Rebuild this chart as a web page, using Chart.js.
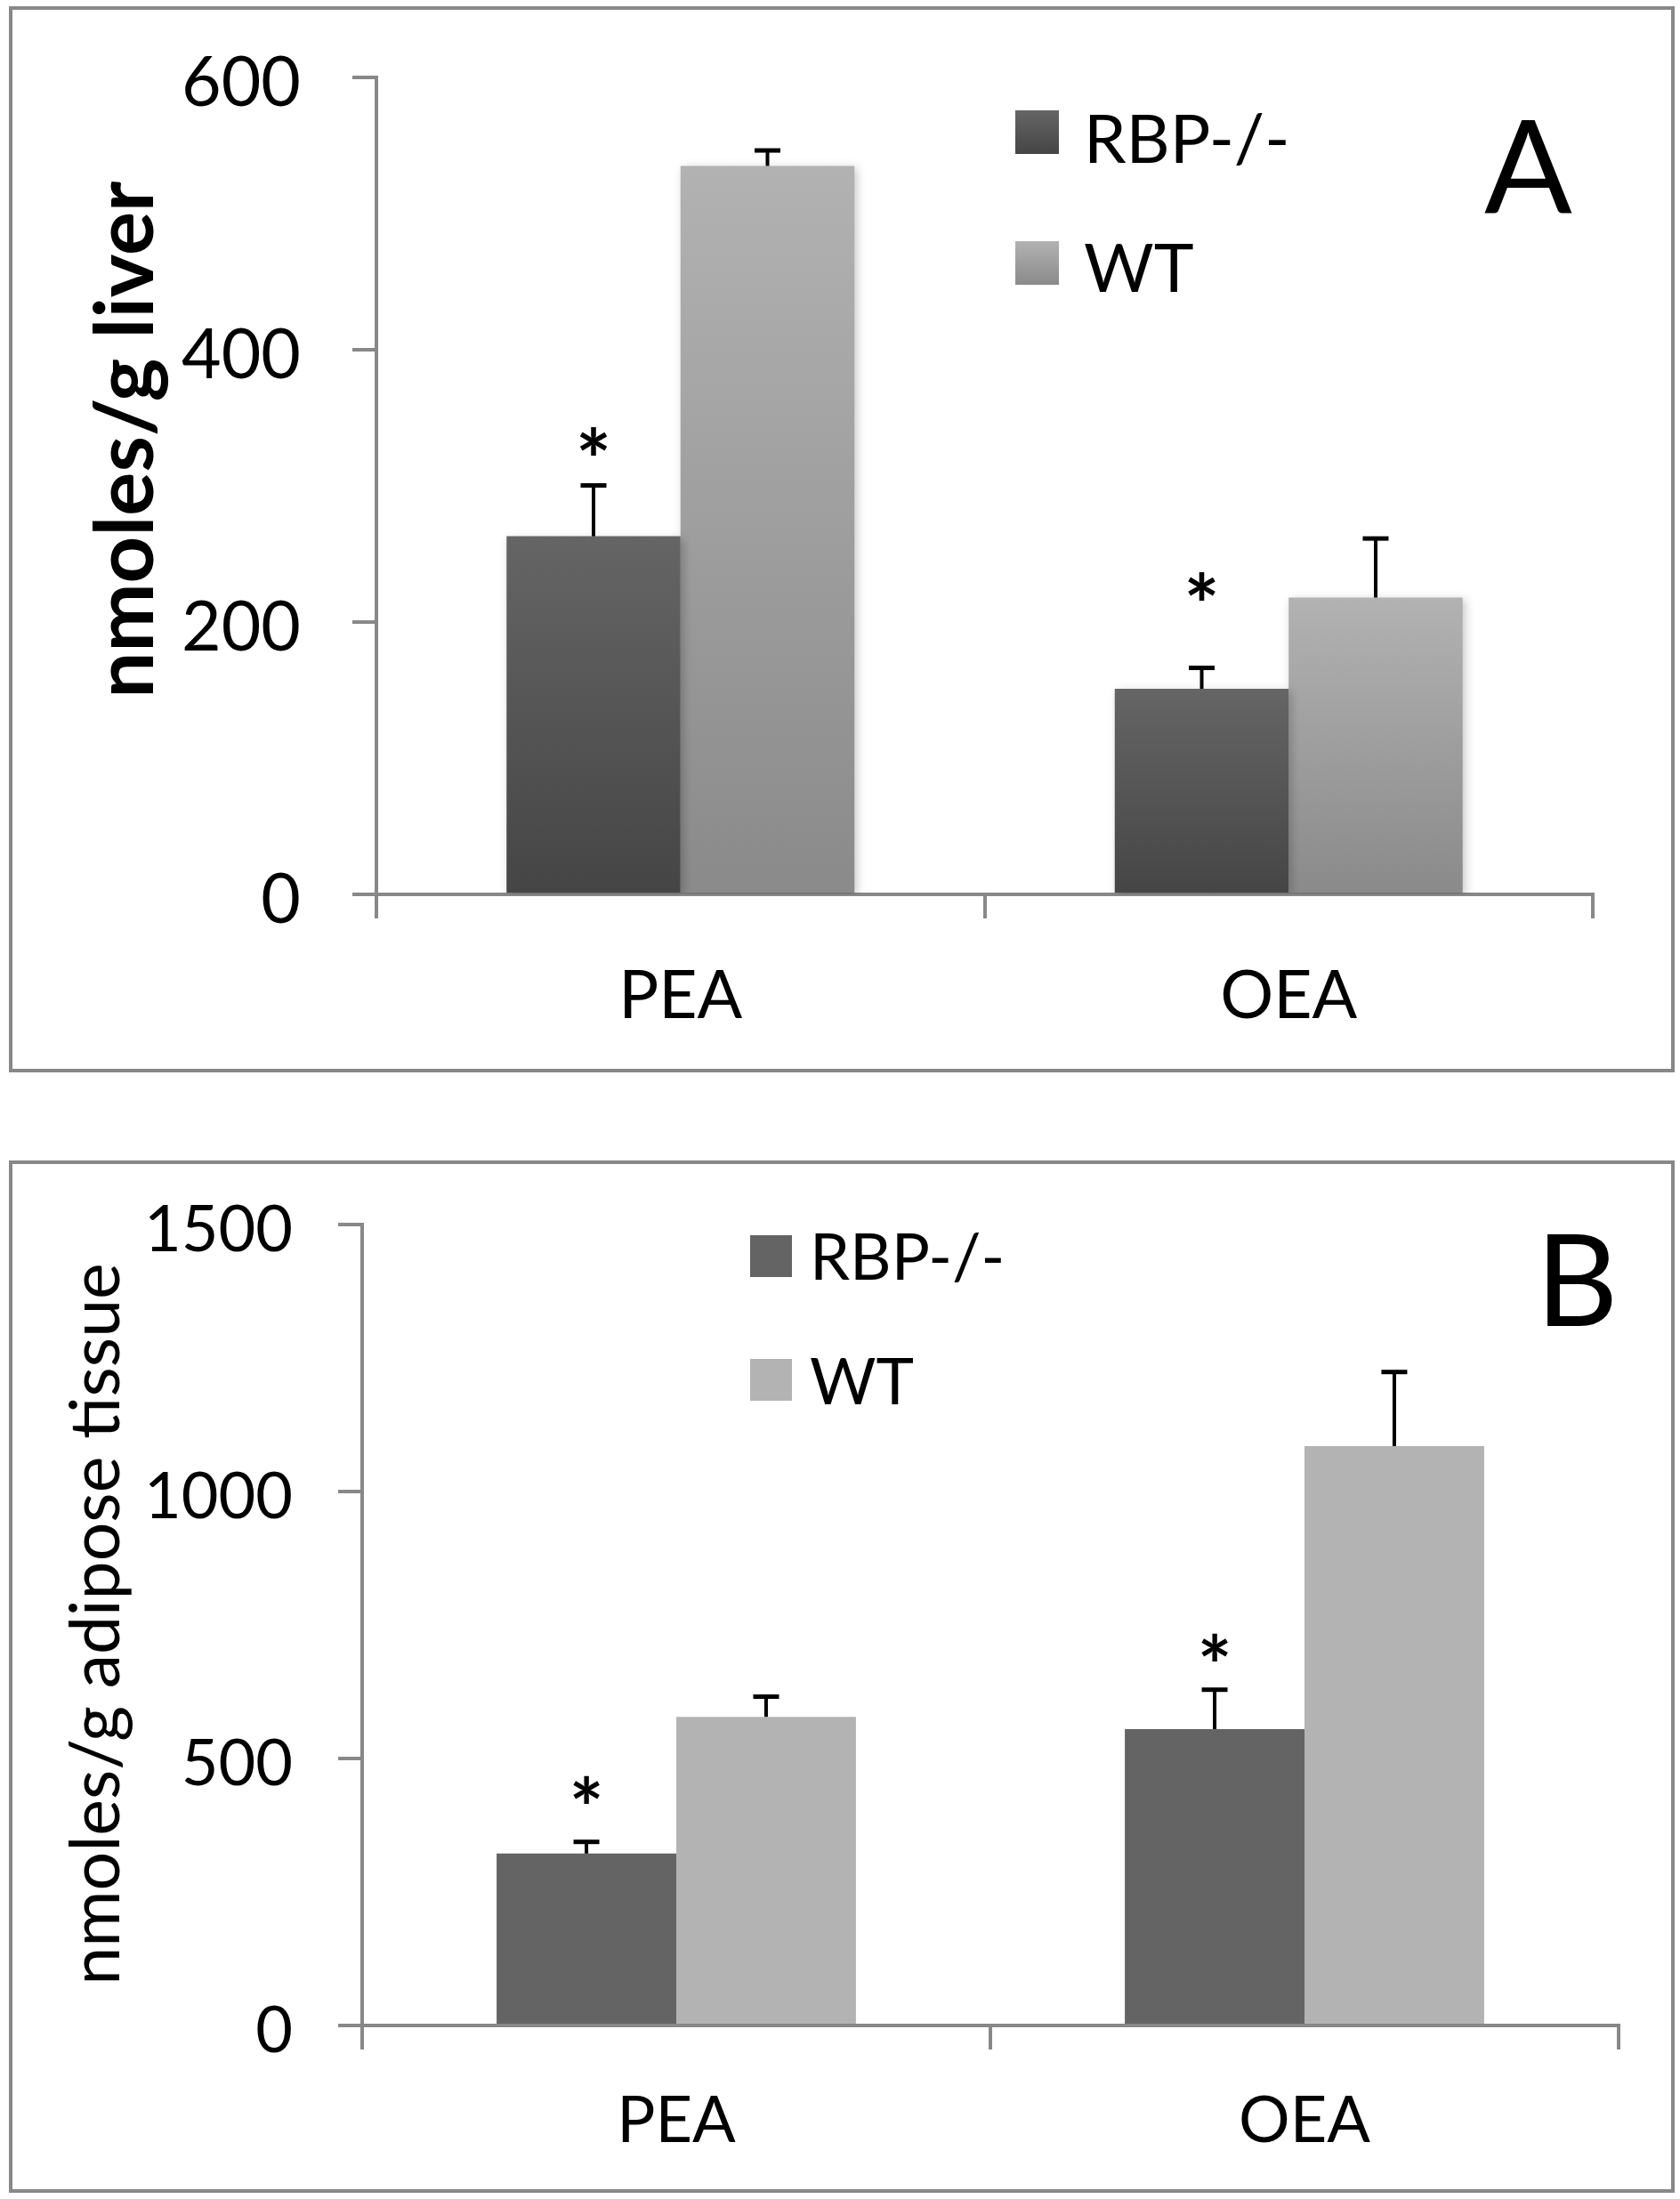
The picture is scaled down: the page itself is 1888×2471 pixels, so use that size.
<!DOCTYPE html>
<html><head><meta charset="utf-8">
<script src="https://cdn.jsdelivr.net/npm/chart.js@4.4.1/dist/chart.umd.min.js"></script>
<style>
html,body{margin:0;padding:0;background:#fff;}
body{width:1888px;height:2471px;position:relative;overflow:hidden;}
canvas{position:absolute;left:0;}
#cA{top:0;} #cB{top:1250px;}
.frame{position:absolute;box-sizing:border-box;border:4px solid #888;pointer-events:none;}
</style></head><body>
<canvas id="cA" width="1888" height="1250"></canvas>
<canvas id="cB" width="1888" height="1221"></canvas>
<div class="frame" style="left:10px;top:7px;width:1872px;height:1198px"></div>
<div class="frame" style="left:10px;top:1304px;width:1872px;height:1160px"></div>
<script>
// ---- data ----
const categories = ['PEA', 'OEA'];
const seriesNames = ['RBP-/-', 'WT'];

const liverRBP = [263, 151];
const liverRBPErr = [39, 17];
const liverWT = [535, 218];
const liverWTErr = [13, 45];
const liverStars = [333, 226];      // height (nmoles/g) of the * marks above RBP-/- bars
const liverTicks = [0, 200, 400, 600];
const liverTickLabels = ['0', '200', '400', '600'];

const adiposeRBP = [322, 555];
const adiposeRBPErr = [26, 78];
const adiposeWT = [578, 1085];
const adiposeWTErr = [42, 143];
const adiposeStars = [442, 708];
const adiposeTicks = [0, 500, 1000, 1500];
const adiposeTickLabels = ['0', '500', '1000', '1500'];

const FONT = 'Lato, "Open Sans", sans-serif';

function barFill(top, bottom) {
  return (ctx) => {
    const chart = ctx.chart;
    if (top === bottom) return top;
    if (ctx.type !== 'data' || !chart.chartArea || !chart.scales.y) return top;
    const y = chart.scales.y;
    const y0 = y.getPixelForValue(ctx.raw), y1 = y.getPixelForValue(0);
    if (!isFinite(y0) || !isFinite(y1) || y1 - y0 < 1) return top;
    const g = chart.ctx.createLinearGradient(0, y0, 0, y1);
    g.addColorStop(0, top); g.addColorStop(1, bottom);
    return g;
  };
}

const annotatePlugin = {
  id: 'annotate',
  beforeDatasetsDraw(chart, args, o) {
    if (o.shadow) {
      const c = chart.ctx; c.save();
      c.shadowColor = o.shadow.color; c.shadowBlur = o.shadow.blur;
      c.shadowOffsetX = o.shadow.dx; c.shadowOffsetY = o.shadow.dy;
    }
  },
  afterDatasetsDraw(chart, args, o) {
    const c = chart.ctx;
    if (o.shadow) c.restore();
    const yS = chart.scales.y;
    chart.data.datasets.forEach((ds, i) => {
      const meta = chart.getDatasetMeta(i);
      meta.data.forEach((bar, j) => {
        const top = yS.getPixelForValue(ds.data[j] + ds.errors[j]);
        c.save();
        c.strokeStyle = '#000';
        c.lineWidth = o.errWidth;
        c.beginPath(); c.moveTo(bar.x, bar.y); c.lineTo(bar.x, top + 2); c.stroke();
        c.lineWidth = o.capWidth;
        c.beginPath(); c.moveTo(bar.x - o.capLen / 2, top + o.capWidth / 2); c.lineTo(bar.x + o.capLen / 2, top + o.capWidth / 2); c.stroke();
        c.restore();
        if (ds.stars && ds.stars[j] != null) {
          const cy = yS.getPixelForValue(ds.stars[j]);
          c.save();
          c.font = 'bold 100px ' + FONT;
          const m = c.measureText('*');
          const h = m.actualBoundingBoxAscent + m.actualBoundingBoxDescent;
          const size = 100 * o.starHeight / h;
          c.font = 'bold ' + size + 'px ' + FONT;
          const m2 = c.measureText('*');
          c.fillStyle = '#000';
          c.textAlign = 'center';
          c.textBaseline = 'alphabetic';
          c.fillText('*', bar.x, cy + (m2.actualBoundingBoxAscent - m2.actualBoundingBoxDescent) / 2);
          c.restore();
        }
      });
    });
  },
  afterDraw(chart, args, o) {
    const c = chart.ctx;
    c.save();
    // legend
    const L = o.legend;
    chart.data.datasets.forEach((ds, i) => {
      const y0 = L.boxTops[i];
      let fill = ds.shade[0];
      if (ds.shade[0] !== ds.shade[1]) {
        fill = c.createLinearGradient(0, y0, 0, y0 + L.box);
        fill.addColorStop(0, ds.shade[0]); fill.addColorStop(1, ds.shade[1]);
      }
      c.fillStyle = fill;
      c.fillRect(L.x, y0, L.box, L.box);
      c.fillStyle = '#000';
      c.font = L.size + 'px ' + FONT;
      c.textAlign = 'left'; c.textBaseline = 'alphabetic';
      c.fillText(ds.label, L.textX, L.baselines[i]);
    });
    // panel letter
    c.font = o.letter.size + 'px ' + FONT;
    c.fillStyle = '#000';
    c.textAlign = 'left'; c.textBaseline = 'alphabetic';
    c.fillText(o.letter.text, o.letter.x, o.letter.baseline);
    // y-axis title
    const T = o.title;
    c.translate(T.x, T.y);
    c.rotate(-Math.PI / 2);
    c.font = T.weight + ' ' + T.size + 'px ' + FONT;
    c.textAlign = 'center'; c.textBaseline = 'alphabetic';
    c.fillText(T.text, 0, 0);
    c.restore();
  }
};

function makeChart(id, cfg) {
  const datasets = [
    { label: seriesNames[0], data: cfg.rbp, errors: cfg.rbpErr, stars: cfg.stars,
      shade: cfg.shades[0], backgroundColor: barFill(cfg.shades[0][0], cfg.shades[0][1]) },
    { label: seriesNames[1], data: cfg.wt, errors: cfg.wtErr,
      shade: cfg.shades[1], backgroundColor: barFill(cfg.shades[1][0], cfg.shades[1][1]) }
  ];
  return new Chart(document.getElementById(id), {
    type: 'bar',
    data: { labels: categories, datasets },
    plugins: [annotatePlugin],
    options: {
      responsive: false,
      devicePixelRatio: 1,
      animation: false,
      events: [],
      layout: { padding: cfg.padding },
      datasets: { bar: { barPercentage: 1.0, categoryPercentage: cfg.catPct, borderWidth: 0 } },
      scales: {
        x: {
          z: 1,
          afterFit: (s) => { s.height = 150; s.paddingLeft = 0; s.paddingRight = 0; },
          grid: { drawOnChartArea: false, tickLength: 27, color: '#888', lineWidth: 4, offset: true },
          border: { color: '#888', width: 4 },
          ticks: { font: { family: FONT, size: cfg.xFont }, color: '#000', padding: cfg.xPad, maxRotation: 0 }
        },
        y: {
          z: 1,
          min: cfg.ticks[0], max: cfg.ticks[cfg.ticks.length - 1],
          afterBuildTicks: (s) => { s.ticks = cfg.ticks.map(v => ({ value: v })); },
          afterFit: (s) => { s.width = cfg.yWidth; s.paddingTop = 0; s.paddingBottom = 0; },
          grid: { drawOnChartArea: false, tickLength: 27, color: '#888', lineWidth: 4 },
          border: { color: '#888', width: 4 },
          ticks: {
            font: { family: FONT, size: cfg.yFont }, color: '#000', padding: cfg.yPad, labelOffset: 7,
            callback: (v) => cfg.tickLabels[cfg.ticks.indexOf(v)]
          }
        }
      },
      plugins: {
        legend: { display: false },
        tooltip: { enabled: false },
        annotate: cfg.annot
      }
    }
  });
}

makeChart('cA', {
  rbp: liverRBP, rbpErr: liverRBPErr, wt: liverWT, wtErr: liverWTErr, stars: liverStars,
  ticks: liverTicks, tickLabels: liverTickLabels,
  shades: [['#656565', '#454545'], ['#b2b2b2', '#8a8a8a']],
  padding: { left: 0, top: 87, right: 98, bottom: 95 },
  catPct: 0.572, yWidth: 423, xFont: 75, xPad: 43, yFont: 77, yPad: 58,
  annot: {
    shadow: { color: 'rgba(0,0,0,0.22)', blur: 10, dx: 3, dy: 3 },
    errWidth: 4, capWidth: 5, capLen: 29, starHeight: 32,
    legend: { x: 1141, box: 49, boxTops: [124, 271], textX: 1218, baselines: [183, 328], size: 76 },
    letter: { text: 'A', x: 1668, baseline: 240, size: 146 },
    title: { text: 'nmoles/g liver', x: 172, y: 494, size: 92, weight: 'bold' }
  }
});

makeChart('cB', {
  rbp: adiposeRBP, rbpErr: adiposeRBPErr, wt: adiposeWT, wtErr: adiposeWTErr, stars: adiposeStars,
  ticks: adiposeTicks, tickLabels: adiposeTickLabels,
  shades: [['#646464', '#646464'], ['#b3b3b3', '#b3b3b3']],
  padding: { left: 0, top: 126, right: 69, bottom: 45 },
  catPct: 0.572, yWidth: 407, xFont: 72, xPad: 38, yFont: 72, yPad: 51,
  annot: {
    shadow: null,
    errWidth: 4, capWidth: 5, capLen: 29, starHeight: 31,
    legend: { x: 843, box: 47, boxTops: [138, 277], textX: 910, baselines: [188, 328], size: 72 },
    letter: { text: 'B', x: 1726, baseline: 240, size: 143 },
    title: { text: 'nmoles/g adipose tissue', x: 134, y: 575, size: 77, weight: 'normal' }
  }
});
</script>
</body></html>
